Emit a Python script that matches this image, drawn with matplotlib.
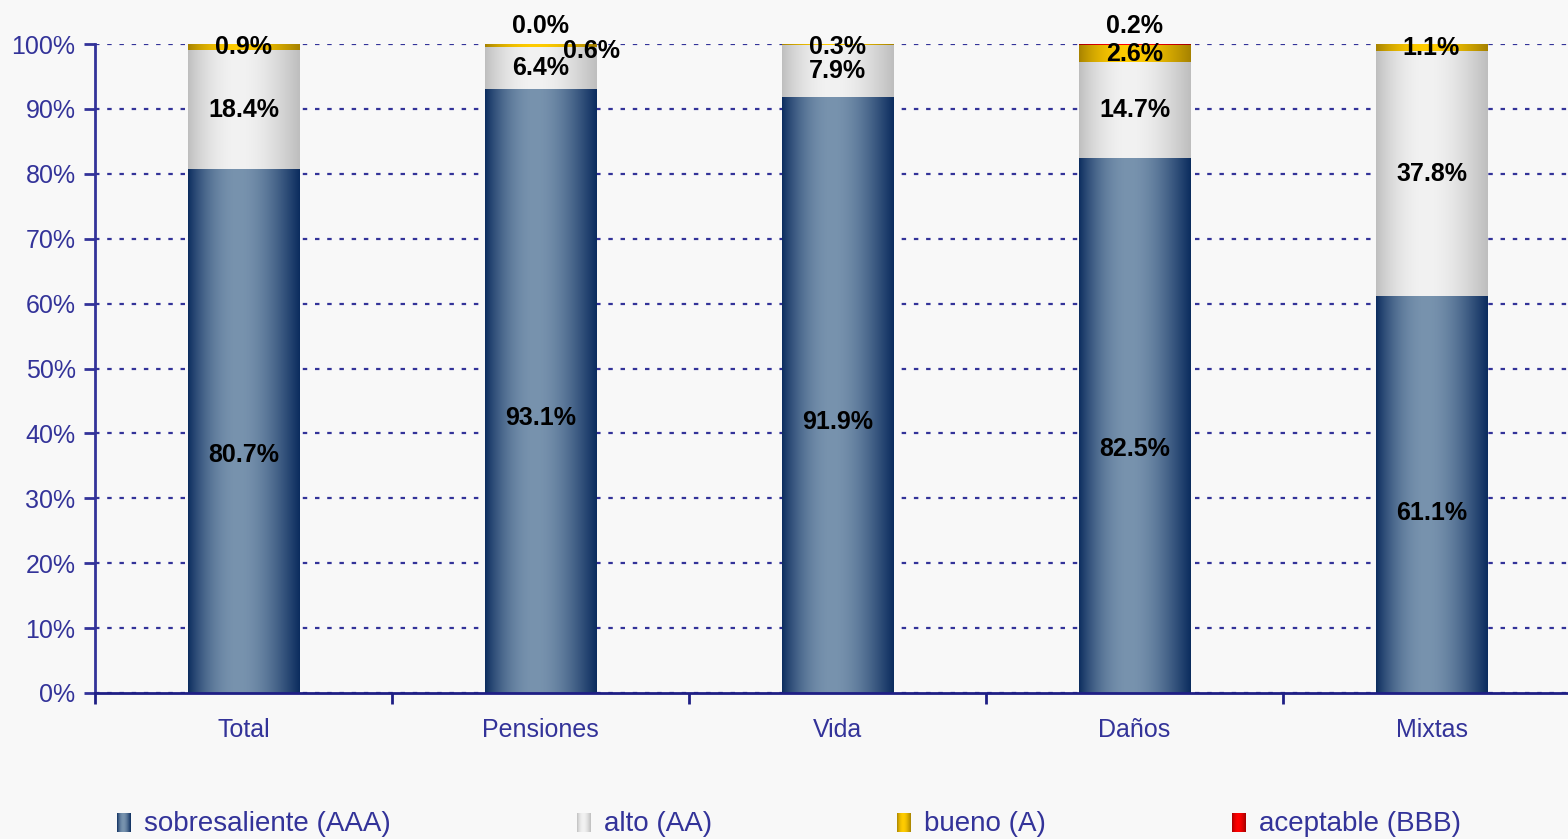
import numpy as np
import matplotlib
matplotlib.use('Agg')
import matplotlib.pyplot as plt

plt.rcParams['font.family'] = ['Liberation Sans', 'DejaVu Sans']

categories = ['Total', 'Pensiones', 'Vida', 'Daños', 'Mixtas']
aaa = [80.7, 93.1, 91.9, 82.5, 61.1]
aa = [18.4, 6.4, 7.9, 14.7, 37.8]
a_ = [0.9, 0.6, 0.3, 2.6, 1.1]
bbb = [0.0, 0.0, 0.0, 0.2, 0.0]
bbb_shown = [False, True, False, True, False]
series_names = ['sobresaliente (AAA)', 'alto (AA)', 'bueno (A)', 'aceptable (BBB)']
yticks = [0, 10, 20, 30, 40, 50, 60, 70, 80, 90, 100]

# gradient colours (edge, centre)
grad_cols = [('#0B2C5E', '#7893AE'), ('#BEBEBE', '#F2F2F2'),
             ('#A68200', '#FFCC00'), ('#A00000', '#FF0000')]

NAVY = '#333399'
BG = '#F8F8F8'


def hex2rgb(h):
    h = h.lstrip('#')
    return np.array([int(h[i:i + 2], 16) / 255 for i in (0, 2, 4)])


def gradient(edge, centre, n=256):
    t = np.linspace(0, 1, n)
    p = np.log(0.5) / np.log(0.45)
    w = np.sin(np.pi * t ** p) ** 1.0
    e, c = hex2rgb(edge), hex2rgb(centre)
    return (e[None, :] * (1 - w[:, None]) + c[None, :] * w[:, None])[None, :, :]


fig = plt.figure(figsize=(15.68, 8.39), dpi=100, facecolor=BG)
ax = fig.add_axes([95 / 1568, 146 / 839, (1580 - 95) / 1568, (693 - 44) / 839])
ax.set_facecolor(BG)

x = np.arange(len(categories))
width = 0.375
series = [aaa, aa, a_, bbb]
bottom = np.zeros(len(categories))
for vals, (ec, cc) in zip(series, grad_cols):
    vals = np.array(vals)
    bars = ax.bar(x, vals, width, bottom=bottom, color='none', edgecolor='none', zorder=2)
    g = gradient(ec, cc)
    for p in bars:
        if p.get_height() <= 0:
            continue
        x0, y0 = p.get_x(), p.get_y()
        ax.imshow(g, extent=[x0, x0 + p.get_width(), y0, y0 + p.get_height()],
                  aspect='auto', interpolation='bilinear', zorder=2)
    bottom = bottom + vals

ax.set_xlim(-0.5, len(categories) - 0.5)
ax.set_ylim(0, 100)

lab_kw = dict(ha='center', va='center', fontsize=18, fontweight='bold', color='black', zorder=5)
# AAA labels
for i, v in enumerate(aaa):
    ax.text(x[i], v * 0.455, f'{v:.1f}%', **lab_kw)
# AA labels
for i, v in enumerate(aa):
    ax.text(x[i], aaa[i] + v / 2, f'{v:.1f}%', **lab_kw)
# A labels
for i, v in enumerate(a_):
    yc = aaa[i] + aa[i] + v / 2
    if categories[i] == 'Pensiones':
        ax.annotate(f'{v:.1f}%', (x[i], yc), xytext=(51, -6), textcoords='offset pixels', **lab_kw)
    else:
        ax.text(x[i], min(yc, 99.6), f'{v:.1f}%', **lab_kw)
# BBB labels
for i, v in enumerate(bbb):
    if bbb_shown[i]:
        ax.annotate(f'{v:.1f}%', (x[i], 100), xytext=(0, 18), textcoords='offset pixels', **lab_kw)

# grid
ax.set_axisbelow(True)
ax.yaxis.grid(True, linestyle=(0, (2, 3.5)), color=NAVY, linewidth=1.6, zorder=0)
ax.xaxis.grid(False)

for s in ['top', 'right']:
    ax.spines[s].set_visible(False)
ax.spines['left'].set_color(NAVY)
ax.spines['left'].set_linewidth(2)
ax.spines['bottom'].set_color('#1F1F85')
ax.spines['bottom'].set_linewidth(2)

ax.set_yticks(yticks)
ax.set_yticklabels([f'{v}%' for v in yticks])
ax.tick_params(axis='y', direction='out', length=8, width=2, color=NAVY,
               labelcolor=NAVY, labelsize=18, pad=6)
ax.set_xticks(x)
ax.set_xticklabels(categories)
ax.tick_params(axis='x', which='major', length=0, labelcolor=NAVY, labelsize=18, pad=18)
ax.set_xticks(np.arange(-0.5, len(categories), 1.0), minor=True)
ax.tick_params(axis='x', which='minor', direction='out', length=8, width=2, color='#1F1F85')

# legend (manual)
leg_x = [117, 577, 897, 1232]
W, H = 1568, 839
for (ec, cc), name, lx in zip(grad_cols, series_names, leg_x):
    lax = fig.add_axes([lx / W, (839 - 832) / H, 14 / W, 19 / H])
    lax.imshow(gradient(ec, cc), aspect='auto', interpolation='bilinear')
    lax.axis('off')
    fig.text((lx + 27) / W, (839 - 824) / H, name, fontsize=20, color=NAVY,
             ha='left', va='center')

fig.savefig('out.png', dpi=100, facecolor=BG)
